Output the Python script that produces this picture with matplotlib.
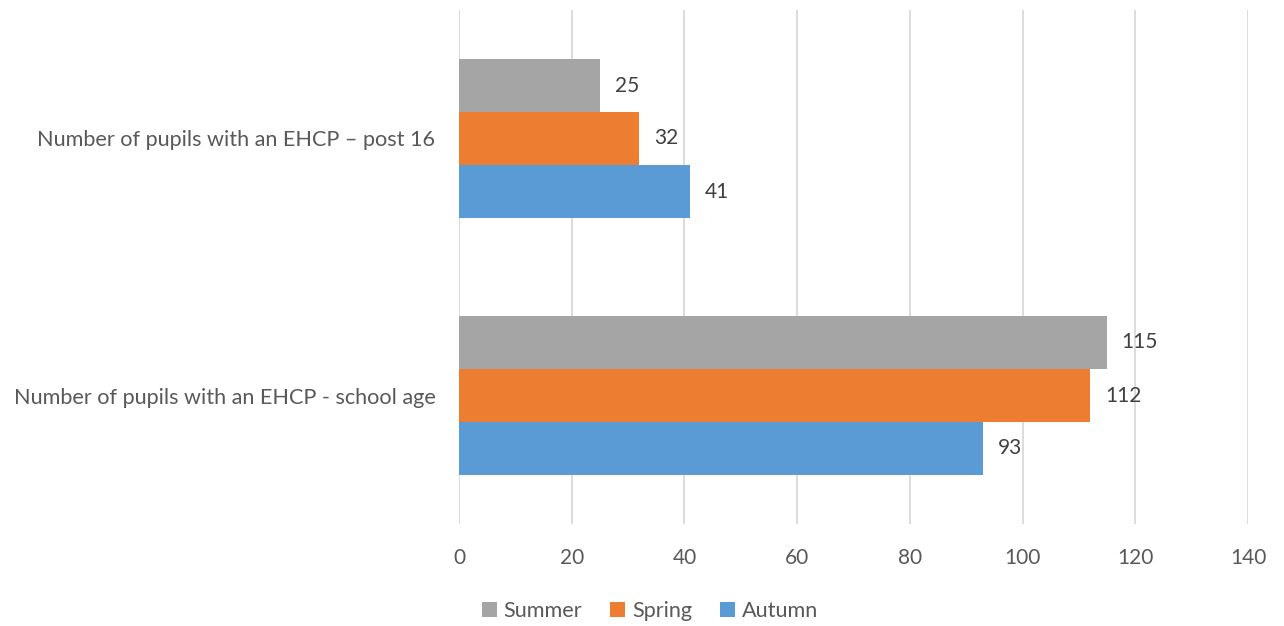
import matplotlib
matplotlib.use("Agg")
import matplotlib.pyplot as plt
import numpy as np

categories = ["Number of pupils with an EHCP - school age", "Number of pupils with an EHCP – post 16"]
series_names = ["Autumn", "Spring", "Summer"]
autumn = [93, 41]
spring = [112, 32]
summer = [115, 25]
x_ticks = [0, 20, 40, 60, 80, 100, 120, 140]

colors = {"Autumn": "#5B9BD5", "Spring": "#ED7D31", "Summer": "#A5A5A5"}
values = {"Autumn": autumn, "Spring": spring, "Summer": summer}

plt.rcParams['font.family'] = ['Lato', 'DejaVu Sans']
text_color = "#595959"

fig = plt.figure(figsize=(12.84, 6.26), dpi=100)
ax = fig.add_axes([459/1284, 1 - 524/626, (1248-459)/1284, (524-10)/626])

bar_h = 53/257
y = np.arange(len(categories))
handles = {}
for i, name in enumerate(series_names):
    offs = (i - 1) * bar_h
    bars = ax.barh(y + offs, values[name], height=bar_h, color=colors[name], zorder=2, label=name)
    handles[name] = bars
    for yy, v in zip(y + offs, values[name]):
        ax.text(v + 2.6, yy, str(v), va="center", ha="left", fontsize=15, color="#404040")

ax.set_xlim(0, 140)
ax.set_ylim(-0.5, 1.5)
ax.set_xticks(x_ticks)
ax.set_xticklabels([str(t) for t in x_ticks], fontsize=15, color=text_color)
ax.set_yticks(y)
ax.set_yticklabels(categories, fontsize=15.6, color=text_color)
ax.tick_params(axis="both", length=0)
ax.tick_params(axis="x", pad=17)
ax.tick_params(axis="y", pad=17)
ax.grid(axis="x", color="#D9D9D9", linewidth=1.3, zorder=0)
for s in ax.spines.values():
    s.set_visible(False)

leg = fig.legend([handles["Summer"], handles["Spring"], handles["Autumn"]],
                 ["Summer", "Spring", "Autumn"], loc="center", bbox_to_anchor=(650/1284, 1 - 611/626),
                 ncol=3, frameon=False, fontsize=15.6, handlelength=0.7, handleheight=0.7,
                 handletextpad=0.3, columnspacing=1.3)
for t in leg.get_texts():
    t.set_color(text_color)

fig.savefig("out.png", dpi=100, facecolor="white")
